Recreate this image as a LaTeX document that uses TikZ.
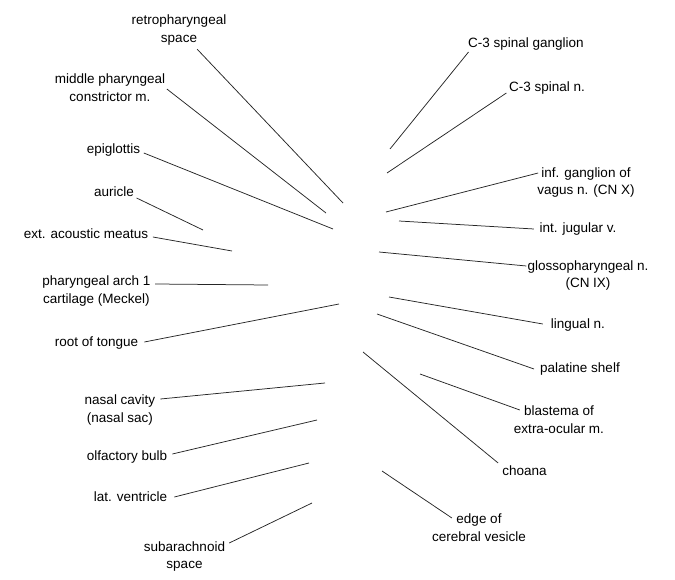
\documentclass[tikz,border=0pt]{standalone}
\usepackage{fontspec}
\setmainfont{Liberation Sans}
\usetikzlibrary{calc}
\tikzset{
  lbl/.style={font=\fontsize{13.5}{17.5}\selectfont, align=center, inner sep=1.5pt, text=black},
  lead/.style={draw=black!85, line width=0.75pt}
}
\begin{document}
\begin{tikzpicture}[x=1pt,y=-1pt]
\useasboundingbox (0,0) rectangle (675,580);
% labels
\node[lbl] (retro) at (179,30) {retropharyngeal\strut\\space\strut};
\node[lbl] (mpc) at (110,89) {middle pharyngeal\strut\\constrictor m.\strut};
\node[lbl] (epi) at (113.5,150) {epiglottis\strut};
\node[lbl] (aur) at (114,193) {auricle\strut};
\node[lbl] (eam) at (86,235) {ext. acoustic meatus\strut};
\node[lbl] (pah) at (96.5,291) {pharyngeal arch 1\strut\\cartilage (Meckel)\strut};
\node[lbl] (rot) at (96.5,343) {root of tongue\strut};
\node[lbl] (nc) at (120,410) {nasal cavity\strut\\(nasal sac)\strut};
\node[lbl] (ob) at (127,457) {olfactory bulb\strut};
\node[lbl] (lv) at (130.5,498) {lat. ventricle\strut};
\node[lbl] (sub) at (184.5,556.5) {subarachnoid\strut\\space\strut};
\node[lbl] (c3g) at (526,44) {C-3 spinal ganglion\strut};
\node[lbl] (c3n) at (547,88) {C-3 spinal n.\strut};
\node[lbl] (igv) at (586,182.5) {inf. ganglion of\strut\\vagus n. (CN X)\strut};
\node[lbl] (ijv) at (578,229) {int. jugular v.\strut};
\node[lbl] (gpn) at (588,275.5) {glossopharyngeal n.\strut\\(CN IX)\strut};
\node[lbl] (ln) at (578,325) {lingual n.\strut};
\node[lbl] (ps) at (580,369) {palatine shelf\strut};
\node[lbl] (bl) at (559,421) {blastema of\strut\\extra-ocular m.\strut};
\node[lbl] (ch) at (524.5,472) {choana\strut};
\node[lbl] (ecv) at (479,529) {edge of\strut\\cerebral vesicle\strut};
% inner ends
\coordinate (e1) at (343,203);
\coordinate (e2) at (326,213);
\coordinate (e3) at (333,229);
\coordinate (e4) at (203,230);
\coordinate (e5) at (232,251);
\coordinate (e6) at (268,285);
\coordinate (e7) at (390,149);
\coordinate (e8) at (387,173);
\coordinate (e9) at (386,212);
\coordinate (e10) at (399,221);
\coordinate (e11) at (379,252);
\coordinate (e12) at (339,304);
\coordinate (e13) at (325,383);
\coordinate (e14) at (317,420);
\coordinate (e15) at (309,463);
\coordinate (e16) at (312,503);
\coordinate (e17) at (389,297);
\coordinate (e18) at (377,314);
\coordinate (e19) at (420,374);
\coordinate (e20) at (363,352);
\coordinate (e21) at (382,471);
% leader lines
\draw[lead] (retro) -- (e1);
\draw[lead] (mpc.east) -- (e2);
\draw[lead] ($(epi.east)+(2,3)$) -- (e3);
\draw[lead] ($(aur.east)+(1,5)$) -- (e4);
\draw[lead] ($(eam.east)+(3,2)$) -- (e5);
\draw[lead] ($(pah.east)+(3,-7)$) -- (e6);
\draw[lead] ($(c3g.west)+(2,8)$) -- (e7);
\draw[lead] ($(c3n.west)+(-1,5)$) -- (e8);
\draw[lead] ($(igv.west)+(2.5,-9.5)$) -- (e9);
\draw[lead] ($(ijv.west)+(-4,0)$) -- (e10);
\draw[lead] ($(gpn.west)+(0.5,-9.5)$) -- (e11);
\draw[lead] ($(rot.east)+(4.5,-1)$) -- (e12);
\draw[lead] ($(nc.east)+(3.5,-11)$) -- (e13);
\draw[lead] ($(ob.east)+(3.5,-3)$) -- (e14);
\draw[lead] ($(lv.east)+(5.5,-1)$) -- (e15);
\draw[lead] ($(sub.east)+(2.5,-13.5)$) -- (e16);
\draw[lead] ($(ln.west)+(-6.5,-1)$) -- (e17);
\draw[lead] ($(ps.west)+(-4.5,0)$) -- (e18);
\draw[lead] ($(bl.west)+(7.5,-11)$) -- (e19);
\draw[lead] ($(ch.west)+(-2.5,-9)$) -- (e20);
\draw[lead] ($(ecv.west)+(21.5,-11)$) -- (e21);
\end{tikzpicture}
\end{document}
